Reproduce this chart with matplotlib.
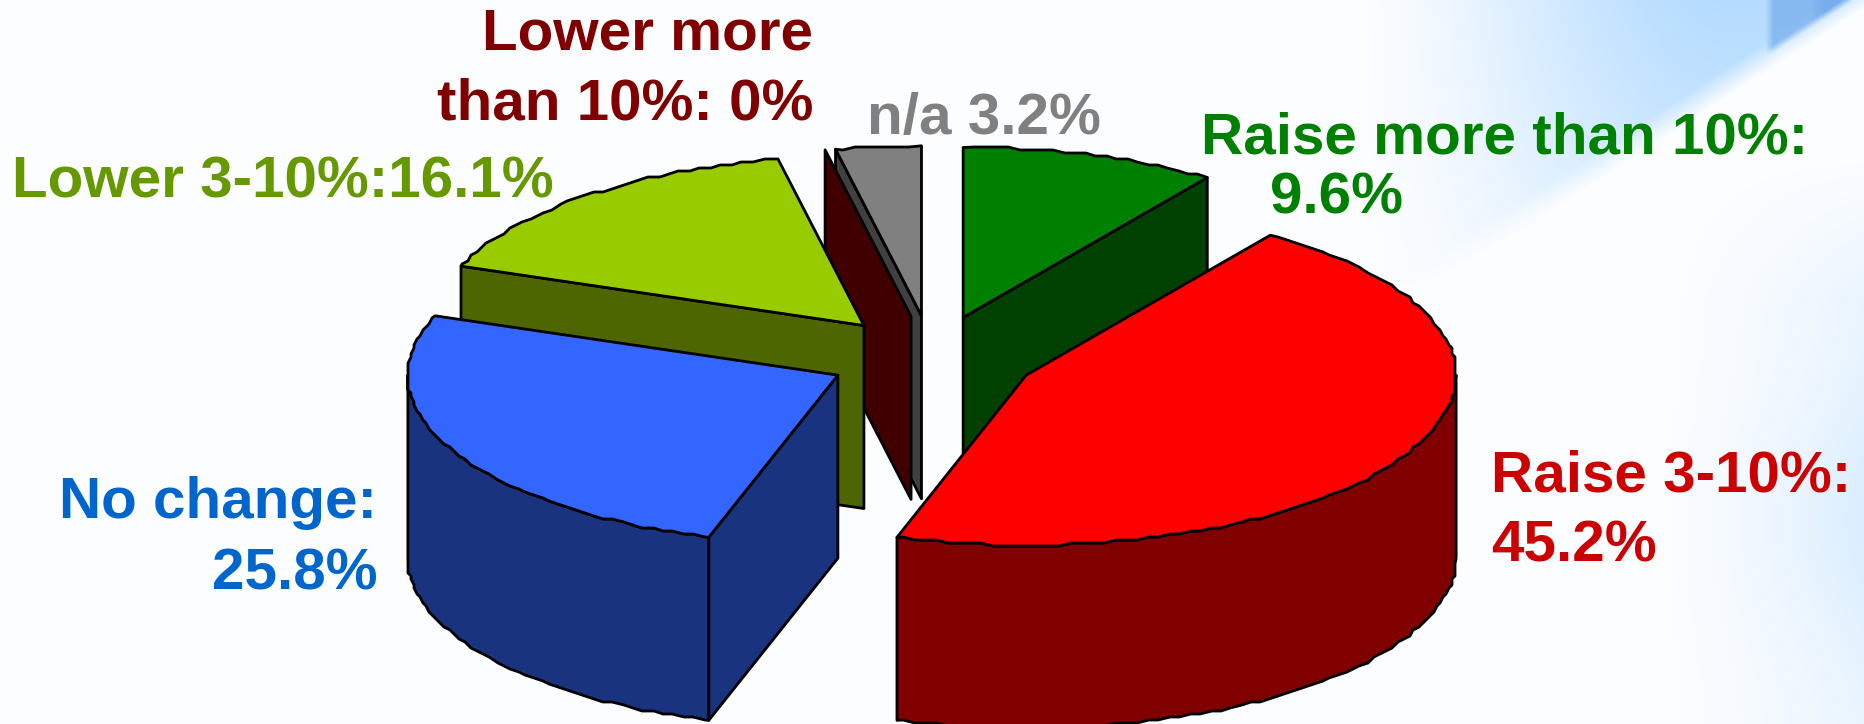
import numpy as np
import matplotlib
matplotlib.use('Agg')
import matplotlib.pyplot as plt

# Datos del grafico (porcentajes, en sentido horario desde las 12)
categorias = ['Raise more than 10%', 'Raise 3-10%', 'No change', 'Lower 3-10%',
              'Lower more than 10%', 'n/a']
valores = [9.6, 45.2, 25.8, 16.1, 0, 3.2]
etiquetas = [['Raise more than 10%:', '9.6%'],
             ['Raise 3-10%:', '45.2%'],
             ['No change:', '25.8%'],
             ['Lower 3-10%:16.1%'],
             ['Lower more', 'than 10%: 0%'],
             ['n/a 3.2%']]

# Estilo
color_arriba = ['#008000', '#ff0000', '#3366ff', '#99cc00', '#800000', '#808080']
color_lado = ['#004000', '#800000', '#19337f', '#4d6600', '#400000', '#404040']
color_texto = ['#008000', '#cc0000', '#0066cc', '#669900', '#800000', '#808080']
# x, y de la linea base de cada renglon de texto, y alineacion
pos_texto = [[(1201, 154, 'left'), (1270, 214, 'left')],
             [(1491, 492, 'left'), (1491, 562, 'left')],
             [(377, 518, 'right'), (377, 589, 'right')],
             [(12, 197, 'left')],
             [(813, 50, 'right'), (813, 120, 'right')],
             [(867, 134, 'left')]]

ANCHO, ALTO = 1864, 724
CX, CY = 932, 357      # centro del pastel
A, B = 430, 170        # semiejes de la elipse
H = 183                # altura del cilindro
EXPLOTA = 0.2436
PASO = 3               # redondeo del borde curvo
orden = [5, 4, 3, 0, 1, 2]  # de atras hacia adelante


def fondo():
    y, x = np.mgrid[0:ALTO, 0:ANCHO].astype(float)
    img = np.ones((ALTO, ANCHO, 3))
    img[..., 0] = 0.992
    img[..., 1] = 0.995
    # diagonal que separa la zona azul de arriba a la derecha
    d = (1853 - x) * 0.65 - y
    arriba = np.clip(d / 30 + 0.5, 0, 1)
    t = np.clip((x - 1330) / 400, 0, 1)
    t = t * t * (3 - 2 * t)
    t2 = np.clip(1 - y / 320, 0, 1) ** 0.5
    mezcla = arriba * t * t2 * 0.9
    azul = np.array([0.68, 0.85, 1.0])
    for c in range(3):
        img[..., c] = img[..., c] * (1 - mezcla) + azul[c] * mezcla
    # triangulo mas oscuro de la esquina
    oscuro = np.clip((x - 1765) / 8, 0, 1) * np.clip(d / 8, 0, 1) * np.clip((x - 1765) / 60, 0.75, 1)
    azul2 = np.array([0.47, 0.68, 0.93])
    for c in range(3):
        img[..., c] = img[..., c] * (1 - oscuro) + azul2[c] * oscuro
    # azul suave en el borde derecho
    t3 = np.clip((x - 1640) / 224, 0, 1) ** 1.5 * (1 - arriba) * 0.5
    t3 = t3 * np.clip((y - 150) / 150, 0, 1) * (0.55 + 0.45 * np.exp(-((y - 520) / 120) ** 2))
    claro = np.array([0.72, 0.87, 1.0])
    for c in range(3):
        img[..., c] = img[..., c] * (1 - t3) + claro[c] * t3
    return img


def punto(cx, cy, ang):
    return cx + A * np.sin(ang), cy - B * np.cos(ang)


def borde(cx, cy, a0, a1):
    # el borde original sale algo quebrado, no es una curva limpia
    rejilla = np.radians(np.arange(0, 360, 1.5))
    dentro = rejilla[(rejilla > a0) & (rejilla < a1)]
    angs = np.r_[a0, dentro, a1]
    xs, ys = punto(cx, cy, angs)
    xr = np.round(xs / PASO) * PASO
    yr = np.round(ys / PASO) * PASO
    xr[0], yr[0], xr[-1], yr[-1] = xs[0], ys[0], xs[-1], ys[-1]
    return xr, yr


fig = plt.figure(figsize=(ANCHO / 100, ALTO / 100), dpi=100)
ax = fig.add_axes([0, 0, 1, 1])
ax.imshow(fondo(), extent=(0, ANCHO, ALTO, 0), aspect='auto', zorder=0)
ax.set_xlim(0, ANCHO)
ax.set_ylim(ALTO, 0)
ax.axis('off')

vals = np.array(valores, dtype=float)
fin = np.cumsum(vals) / vals.sum() * 2 * np.pi
ini = np.concatenate(([0], fin[:-1]))

z = 1
LW = 2.0
for i in orden:
    t0, t1 = ini[i], fin[i]
    medio = (t0 + t1) / 2
    cx = CX + EXPLOTA * A * np.sin(medio)
    cy = CY - EXPLOTA * B * np.cos(medio)
    estilo = dict(edgecolor='black', linewidth=LW, joinstyle='round', zorder=z)

    # cara de corte inicial y final, solo si miran hacia el frente
    x0, y0 = punto(cx, cy, t0)
    if np.sin(t0) < -1e-6:
        ax.fill([x0, cx, cx, x0], [y0, cy, cy + H, y0 + H], facecolor=color_lado[i], **estilo)
    x1, y1 = punto(cx, cy, t1)
    if np.sin(t1) > 1e-6:
        ax.fill([x1, cx, cx, x1], [y1, cy, cy + H, y1 + H], facecolor=color_lado[i], **estilo)

    # lado curvo visible (mitad delantera de la elipse)
    a0, a1 = max(t0, np.pi / 2), min(t1, 3 * np.pi / 2)
    if a1 > a0:
        xs, ys = borde(cx, cy, a0, a1)
        ax.fill(np.r_[xs, xs[::-1]], np.r_[ys, ys[::-1] + H], facecolor=color_lado[i], **estilo)

    # tapa
    if t1 > t0:
        xs, ys = borde(cx, cy, t0, t1)
        ax.fill(np.r_[cx, xs], np.r_[cy, ys], facecolor=color_arriba[i], **estilo)
    z += 1

for i, lineas in enumerate(etiquetas):
    for linea, (x, y, al) in zip(lineas, pos_texto[i]):
        ax.text(x, y, linea, color=color_texto[i], fontsize=42, fontweight='bold',
                family='Liberation Sans', ha=al, va='baseline', zorder=20)

fig.savefig('out.png', dpi=100)
